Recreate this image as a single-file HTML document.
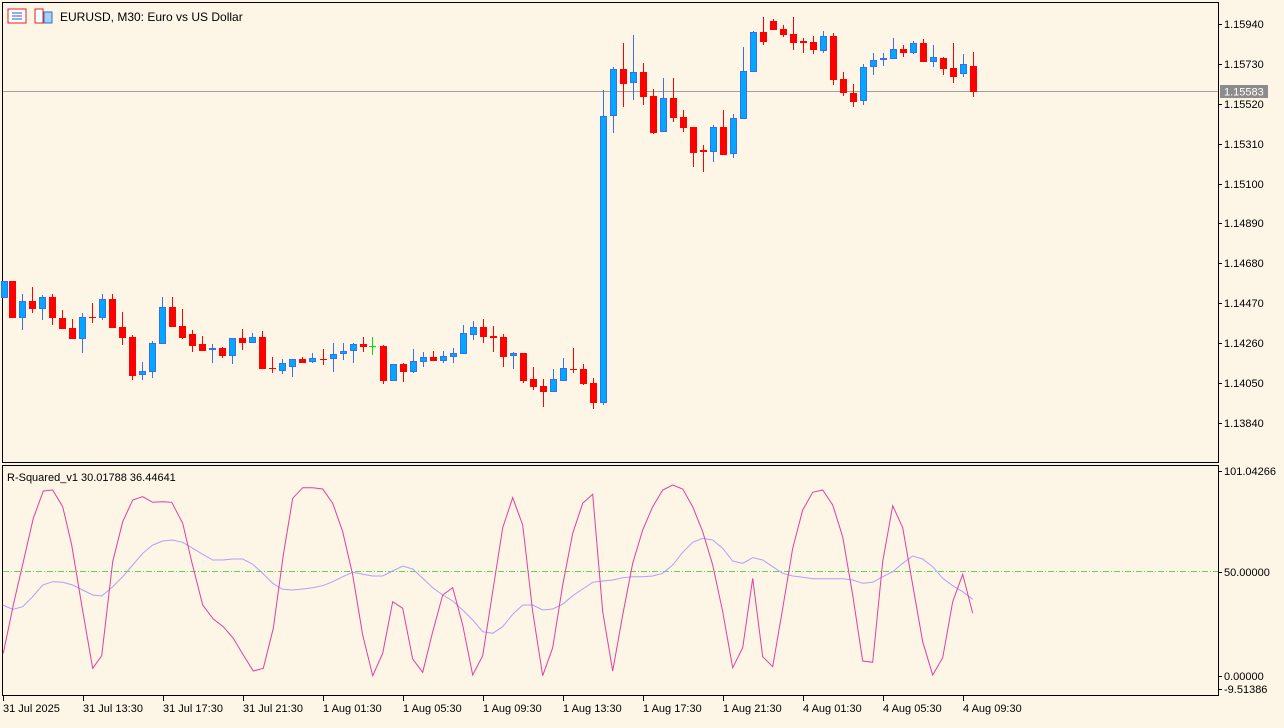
<!DOCTYPE html><html><head><style>
body{margin:0;width:1284px;height:723px;background:#fdf5e6;overflow:hidden;font-family:"Liberation Sans","DejaVu Sans",sans-serif}
svg text{font-family:"Liberation Sans","DejaVu Sans",sans-serif;font-size:11px;fill:#000}
</style></head><body>
<svg id="s" width="1284" height="723" xmlns="http://www.w3.org/2000/svg">
<rect width="1284" height="723" fill="#fdf5e6"/>
<rect x="2.5" y="2.5" width="1216" height="460" fill="none" stroke="#000"/>
<rect x="2.5" y="465.5" width="1216" height="230" fill="none" stroke="#000"/>
<line x1="3" y1="91.5" x2="1218" y2="91.5" stroke="#a0a0a0"/>
<line x1="3" y1="571.5" x2="1218" y2="571.5" stroke="#60d060" stroke-dasharray="6,2,1,2"/>
<g id="g"></g>
<rect x="1220" y="85" width="48" height="13" fill="#8c8c8c"/>
<text x="1224" y="95.5" style="fill:#fff">1.15583</text>
<g>
<rect x="8" y="9" width="18" height="14" fill="#fff" stroke="#e02020"/>
<line x1="12" y1="13" x2="22" y2="13" stroke="#3050d0"/><line x1="12" y1="16" x2="22" y2="16" stroke="#3050d0"/><line x1="12" y1="19" x2="22" y2="19" stroke="#3050d0"/>
<rect x="35" y="9" width="8" height="14" fill="#fff" stroke="#e02020"/><rect x="44" y="12" width="8" height="11" fill="#a8d0f0" stroke="#3070d0"/>
</g>
<text x="60" y="21" style="font-size:12px">EURUSD, M30:  Euro vs US Dollar</text>
<text x="7" y="481">R-Squared_v1 30.01788 36.44641</text>
</svg>
<script>
const g=document.getElementById('g');let h='';
const C=[[4,281,281,298,298,'b'],[12,281,281,318,318,'r'],[22,294,301,318,330,'b'],[32,287,301,309,313,'r'],[42,295,297,309,320,'b'],[52,294,297,318,325,'r'],[62,310,318,329,329,'r'],[72,319,328,339,339,'r'],[82,313,317,339,353,'b'],[92,303,317,318,323,'r'],[102,294,299,318,320,'b'],[112,294,299,328,328,'r'],[122,312,327,338,345,'r'],[132,335,337,376,380,'r'],[142,362,371,375,380,'b'],[152,341,343,372,378,'b'],[162,297,307,344,344,'b'],[172,297,307,327,327,'r'],[182,309,326,338,339,'r'],[192,330,334,346,352,'r'],[202,336,344,351,351,'r'],[212,344,348,350,363,'b'],[222,347,348,356,358,'r'],[232,338,338,356,364,'b'],[242,329,338,343,350,'r'],[252,333,337,343,343,'b'],[262,331,337,369,369,'r'],[272,357,368,369,373,'r'],[282,359,363,371,374,'b'],[292,359,359,367,377,'b'],[302,357,359,363,363,'r'],[312,353,358,362,363,'b'],[323,349,359,360,365,'r'],[333,343,354,359,372,'b'],[343,343,351,354,360,'b'],[353,343,344,351,363,'b'],[363,337,344,347,352,'r'],[372,337,346,346,355,'g'],[383,345,346,381,384,'r'],[393,364,364,381,381,'b'],[403,363,364,372,382,'r'],[413,349,361,372,373,'b'],[423,352,357,362,367,'b'],[433,351,357,361,361,'r'],[443,351,356,361,363,'b'],[453,348,353,357,363,'b'],[463,325,333,354,354,'b'],[473,321,327,335,340,'b'],[483,319,327,337,343,'r'],[493,326,336,338,352,'r'],[503,334,337,357,367,'r'],[513,352,353,356,369,'b'],[523,353,353,381,383,'r'],[533,367,379,387,390,'r'],[543,379,386,392,407,'r'],[553,369,379,392,392,'b'],[563,358,368,381,381,'b'],[573,348,369,370,373,'r'],[583,364,369,384,385,'r'],[593,378,383,403,409,'r'],[603,90,116,403,405,'b'],[613,67,69,116,133,'b'],[623,43,69,84,107,'r'],[633,35,72,83,100,'b'],[643,63,72,97,105,'r'],[653,89,96,133,134,'r'],[663,78,98,132,132,'b'],[673,78,98,118,122,'r'],[683,110,117,128,132,'r'],[693,127,127,153,167,'r'],[703,145,150,152,172,'r'],[713,125,127,152,162,'b'],[723,110,127,155,155,'r'],[733,114,118,154,158,'b'],[743,47,71,119,119,'b'],[753,31,32,72,72,'b'],[763,17,32,42,45,'r'],[773,19,21,30,30,'r'],[783,25,29,35,37,'r'],[793,17,34,43,50,'r'],[803,38,41,43,53,'r'],[813,36,42,50,54,'r'],[823,31,36,51,53,'b'],[833,33,36,80,85,'r'],[843,72,79,93,96,'r'],[853,84,93,102,107,'r'],[863,64,67,101,105,'b'],[873,53,60,67,75,'b'],[883,53,58,60,66,'b'],[893,38,49,59,59,'b'],[903,45,49,53,57,'r'],[913,41,43,53,54,'b'],[923,39,43,62,62,'r'],[933,45,57,62,67,'b'],[943,57,58,69,75,'r'],[953,43,68,77,83,'r'],[963,54,64,74,77,'b'],[973,52,66,92,97,'r']];
for(const[x,hi,t,b,lo,c]of C){
 if(c=='r'){h+=`<line x1="${x+.5}" y1="${hi}" x2="${x+.5}" y2="${lo}" stroke="#ff0000"/><rect x="${x-3}" y="${t}" width="7" height="${Math.max(1,b-t)}" fill="#ff0000"/>`}
 else if(c=='g'){h+=`<line x1="${x+.5}" y1="${hi}" x2="${x+.5}" y2="${lo}" stroke="#00e000"/><line x1="${x-3}" y1="${t+.5}" x2="${x+4}" y2="${t+.5}" stroke="#00e000"/>`}
 else{h+=`<line x1="${x+.5}" y1="${hi}" x2="${x+.5}" y2="${lo}" stroke="#3c6cf0"/><rect x="${x-2.5}" y="${t+.5}" width="6" height="${Math.max(1,b-t-1)}" fill="#00a8ff" stroke="#3c6cf0"/>`}
}
const P1=[[10,565],[40,420],[70,290],[100,160],[130,78],[158,75],[188,125],[215,240],[245,420],[278,610],[305,572],[338,290],[368,170],[398,105],[428,95],[458,112],[488,110],[515,112],[548,175],[575,290],[608,420],[640,462],[670,485],[700,520],[730,570],[760,618],[790,610],[820,490],[850,270],[878,100],[908,68],[938,68],[968,72],[998,115],[1028,200],[1058,330],[1088,510],[1118,632],[1148,565],[1178,410],[1208,430],[1238,582],[1268,622],[1298,500],[1328,390],[1358,368],[1388,480],[1418,630],[1448,572]];
const P2=[[38,188],[68,98],[98,180],[128,440],[158,632],[188,548],[218,360],[248,205],[278,115],[308,88],[338,440],[368,618],[398,450],[428,295],[458,195],[488,125],[518,75],[548,60],[578,72],[608,125],[638,200],[668,300],[698,440],[728,608],[758,548],[788,340],[818,575],[848,605],[878,430],[908,250],[938,135],[968,82],[998,75],[1028,120],[1058,215],[1088,390],[1118,588],[1148,592],[1178,290],[1208,122],[1238,188],[1268,360],[1298,530],[1328,630],[1358,578],[1388,410],[1418,328],[1448,445]];
const Q1=[[8,420],[38,433],[68,425],[98,395],[128,360],[158,350],[188,352],[218,360],[248,375],[278,390],[305,393],[338,365],[368,335],[398,300],[428,265],[458,240],[488,228],[518,225],[548,232],[578,250],[608,268],[638,285],[668,285],[698,282],[728,282],[758,298],[788,325],[818,355],[848,373],[878,375],[908,372],[938,368],[968,362],[998,350],[1028,335],[1058,322],[1088,328],[1118,333],[1148,333],[1178,318],[1208,303],[1238,312],[1268,340],[1298,368],[1328,390],[1358,408],[1388,435],[1418,465],[1448,500]];
const Q2=[[8,505],[38,485],[68,448],[98,420],[128,420],[158,435],[188,432],[218,418],[248,392],[278,372],[308,352],[338,348],[368,345],[398,338],[428,335],[458,335],[488,333],[518,325],[548,300],[578,262],[608,232],[638,220],[668,225],[698,250],[728,288],[758,295],[788,278],[818,285],[848,305],[878,325],[908,333],[938,337],[968,341],[998,341],[1028,341],[1058,341],[1088,345],[1118,355],[1148,352],[1178,335],[1208,320],[1238,295],[1268,273],[1298,282],[1328,305],[1358,340],[1388,362],[1418,380],[1448,403]];
const pts=(A,B)=>A.map(p=>(p[0]/3).toFixed(1)+','+(465+p[1]/3).toFixed(1)).concat(B.map(p=>(490+p[0]/3).toFixed(1)+','+(465+p[1]/3).toFixed(1))).join(' ');
h+=`<polyline points="${pts(Q1,Q2)}" fill="none" stroke="#b0a0f8"/>`;
h+=`<polyline points="${pts(P1,P2)}" fill="none" stroke="#e040a0"/>`;
const L=[['1.15940',24],['1.15730',64],['1.15520',104],['1.15310',144],['1.15100',184],['1.14890',223],['1.14680',263],['1.14470',303],['1.14260',343],['1.14050',383],['1.13840',423]];
for(const[t,y]of L){h+=`<line x1="1218" y1="${y+.5}" x2="1222" y2="${y+.5}" stroke="#000"/><text x="1224" y="${y+4}">${t}</text>`}
for(const[t,y]of [['101.04266',471],['50.00000',572],['0.00000',676],['-9.51386',689]]){h+=`<line x1="1218" y1="${y+.5}" x2="1222" y2="${y+.5}" stroke="#000"/><text x="1224" y="${y+4}">${t}</text>`}
const T=['31 Jul 2025','31 Jul 13:30','31 Jul 17:30','31 Jul 21:30','1 Aug 01:30','1 Aug 05:30','1 Aug 09:30','1 Aug 13:30','1 Aug 17:30','1 Aug 21:30','4 Aug 01:30','4 Aug 05:30','4 Aug 09:30'];
T.forEach((t,i)=>{const x=3+80*i;h+=`<line x1="${x+.5}" y1="696" x2="${x+.5}" y2="701" stroke="#000"/><text x="${x}" y="712">${t}</text>`});
g.innerHTML=h;
</script>
</body></html>
